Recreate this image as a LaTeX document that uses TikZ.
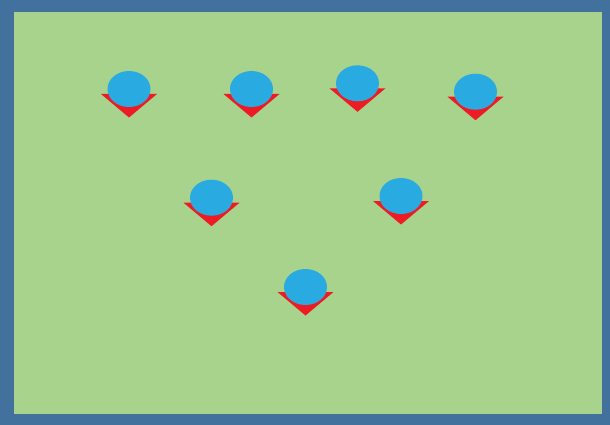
\documentclass[tikz,border=0pt]{standalone}
\usetikzlibrary{shapes.geometric}
\definecolor{frameblue}{RGB}{65,113,156}
\definecolor{fieldgreen}{RGB}{168,211,140}
\definecolor{headblue}{RGB}{41,171,226}
\definecolor{bodyred}{RGB}{237,28,36}
\tikzset{
  head/.style={ellipse, fill=headblue, draw=none, minimum width=43pt, minimum height=36pt, inner sep=0pt},
  body/.style={fill=bodyred, draw=none}
}
\begin{document}
\begin{tikzpicture}[x=1pt,y=-1pt]
\useasboundingbox (0,0) rectangle (610,425);
\fill[frameblue] (0,0) rectangle (610,425);
\fill[fieldgreen] (14,12.5) rectangle (601.5,414);
\foreach \n/\cx/\t in {1/129/94, 2/251.5/94, 3/357.5/88.3, 4/475.5/96.7, 5/211.5/202.7, 6/401/201, 7/305.5/292}{
  \fill[body] (\cx-28,\t) -- (\cx+28,\t) -- (\cx,\t+23.5) -- cycle;
  \node[head] (p\n) at (\cx,\t-5) {};
}
\end{tikzpicture}
\end{document}
